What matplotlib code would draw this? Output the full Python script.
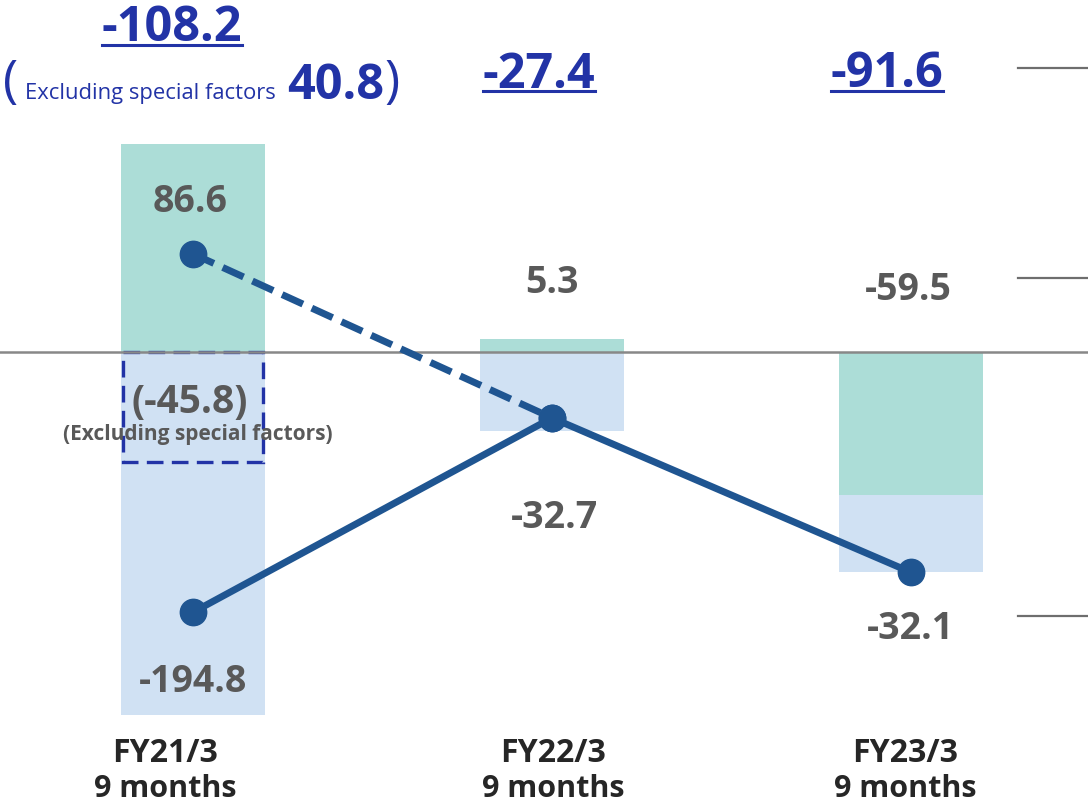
import matplotlib
matplotlib.use("Agg")
import matplotlib.pyplot as plt
from matplotlib.lines import Line2D
from matplotlib.patches import Rectangle

# data
periods = ["FY21/3", "FY22/3", "FY23/3"]
sub_label = "9 months"
green_vals = [86.6, 5.3, -59.5]
blue_vals = [-194.8, -32.7, -32.1]
totals = [-108.2, -27.4, -91.6]
excl_total = 40.8
excl_bar = -45.8

GREEN = "#acddd7"
LIGHT_BLUE = "#d0e1f3"
LINE_BLUE = "#1f5591"
TEXT_BLUE = "#2233a6"
GRAY_TEXT = "#595959"

W, H = 1088, 804
plt.rcParams['font.family'] = ['Open Sans', 'DejaVu Sans']


def px(x, y):
    # pixel position (from top left) -> figure fraction
    return x / W, 1 - y / H


def main():
    fig = plt.figure(figsize=(W / 100, H / 100), dpi=100)
    ax = fig.add_axes([0, (H - 716) / H, 1, 716 / H])
    ax.set_axis_off()

    xs = list(range(len(periods)))
    width = 0.401
    ax.bar(xs, green_vals, width=width, color=GREEN, zorder=1)
    blue_bottoms = [min(0, g) for g in green_vals]
    ax.bar(xs, blue_vals, width=width, bottom=blue_bottoms, color=LIGHT_BLUE, zorder=1)

    # dashed box for the "excluding special factors" part
    box = Rectangle((xs[0] - 0.196, 0), 0.392, excl_bar, fill=False,
                    edgecolor=TEXT_BLUE, lw=2.4, linestyle=(0, (5, 2.5)), zorder=2)
    ax.add_patch(box)

    ax.axhline(0, color="#888888", lw=1.8, zorder=2)

    ax.plot([xs[0], xs[1]], [excl_total, totals[1]], color=LINE_BLUE, lw=5,
            dashes=(3.3, 1.4), marker="o", markersize=19, zorder=3)
    ax.plot(xs, totals, color=LINE_BLUE, lw=5, marker="o", markersize=19, zorder=4)

    scale = 2.405
    ax.set_xlim(-193 / 359, (W - 193) / 359)
    ax.set_ylim(-363 / scale, 353 / scale)

    # value labels
    num_kw = dict(fontsize=27, fontweight="bold", color=GRAY_TEXT, ha="center", va="baseline")
    fig.text(*px(190, 212), f"{green_vals[0]:.1f}", **num_kw)
    fig.text(*px(193, 692), f"{blue_vals[0]:.1f}", **num_kw)
    fig.text(*px(552, 293), f"{green_vals[1]:.1f}", **num_kw)
    fig.text(*px(554, 528), f"{blue_vals[1]:.1f}", **num_kw)
    fig.text(*px(908, 300), f"{green_vals[2]:.1f}", **num_kw)
    fig.text(*px(910, 639), f"{blue_vals[2]:.1f}", **num_kw)
    fig.text(*px(190, 413), f"({excl_bar:.1f})", fontsize=28, fontweight="bold",
             color=GRAY_TEXT, ha="center", va="baseline")
    fig.text(*px(198, 440), "(Excluding special factors)", fontsize=15, fontweight="bold",
             color=GRAY_TEXT, ha="center", va="baseline")

    # totals on top, underlined
    tops = []
    tops.append(fig.text(*px(172, 41), f"{totals[0]:.1f}", fontsize=35, fontweight="bold",
                         color=TEXT_BLUE, ha="center", va="baseline"))
    tops.append(fig.text(*px(539, 88), f"{totals[1]:.1f}", fontsize=35, fontweight="bold",
                         color=TEXT_BLUE, ha="center", va="baseline"))
    tops.append(fig.text(*px(887, 87), f"{totals[2]:.1f}", fontsize=35, fontweight="bold",
                         color=TEXT_BLUE, ha="center", va="baseline"))
    under_y = [46, 92, 92]

    fig.text(*px(3, 97), "(", fontsize=37, color=TEXT_BLUE, ha="left", va="baseline")
    fig.text(*px(25, 99), "Excluding special factors", fontsize=15.8, color=TEXT_BLUE,
             ha="left", va="baseline")
    fig.text(*px(287, 99), f"{excl_total:.1f}", fontsize=35, fontweight="bold",
             color=TEXT_BLUE, ha="left", va="baseline")
    fig.text(*px(384, 97), ")", fontsize=37, color=TEXT_BLUE, ha="left", va="baseline")

    # category labels
    label_x = [165, 553, 905]
    for lx, p in zip(label_x, periods):
        fig.text(*px(lx, 762), p, fontsize=23, fontweight="bold", color="#262626",
                 ha="center", va="baseline")
        fig.text(*px(lx, 797), sub_label, fontsize=22, fontweight="bold", color="#262626",
                 ha="center", va="baseline")

    # leader lines on the right edge
    for ly in [69, 279, 617]:
        fig.add_artist(Line2D([1018 / W, 1], [1 - ly / H] * 2, color="#6e6e6e", lw=1.6))

    fig.canvas.draw()
    renderer = fig.canvas.get_renderer()
    for t, uy in zip(tops, under_y):
        bb = t.get_window_extent(renderer)
        fig.add_artist(Line2D([bb.x0 / W, bb.x1 / W], [1 - uy / H] * 2,
                              color=TEXT_BLUE, lw=2.2))

    fig.savefig("out.png", dpi=100)


if __name__ == "__main__":
    main()
